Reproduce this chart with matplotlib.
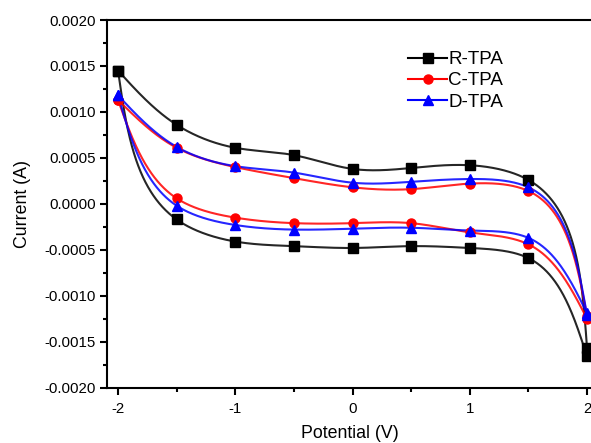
import numpy as np
import matplotlib
matplotlib.use("Agg")
import matplotlib.pyplot as plt
from matplotlib.ticker import MultipleLocator, FixedFormatter, FixedLocator

plt.rcParams['font.family'] = ['Liberation Sans', 'DejaVu Sans']

# Potential points (V)
potential = [-2.0, -1.5, -1.0, -0.5, 0.0, 0.5, 1.0, 1.5, 2.0]

# Current (A): upper (anodic) branch and lower (cathodic) branch at each potential
r_upper = [0.00145, 0.00086, 0.00061, 0.00053, 0.00038, 0.00039, 0.00042, 0.00026, -0.00157]
r_lower = [0.00145, -0.00017, -0.00041, -0.00046, -0.00048, -0.00046, -0.00048, -0.00059, -0.00166]

c_upper = [0.00113, 0.00061, 0.00040, 0.00028, 0.00018, 0.00016, 0.00022, 0.00014, -0.00122]
c_lower = [0.00113, 0.00006, -0.00015, -0.00021, -0.00021, -0.00021, -0.00031, -0.00044, -0.00125]

d_upper = [0.00118, 0.00062, 0.00041, 0.00034, 0.00023, 0.00024, 0.00027, 0.00018, -0.00121]
d_lower = [0.00118, -0.00002, -0.00023, -0.00028, -0.00027, -0.00026, -0.00029, -0.00037, -0.00119]

labels = ['R-TPA', 'C-TPA', 'D-TPA']
colors = ['#000000', '#ff0000', '#0000ff']
markers = ['s', 'o', '^']

y_ticks = [-0.0020, -0.0015, -0.0010, -0.0005, 0.0000, 0.0005, 0.0010, 0.0015, 0.0020]
y_ticklabels = ['-0.0020', '-0.0015', '-0.0010', '-0.0005', '0.0000', '0.0005', '0.0010', '0.0015', '0.0020']
x_ticks = [-2, -1, 0, 1, 2]
x_ticklabels = ['-2', '-1', '0', '1', '2']


def natural_coeffs(t, y):
    k = len(t)
    h = np.diff(t)
    A = np.zeros((k, k))
    b = np.zeros(k)
    A[0, 0] = 1
    A[-1, -1] = 1
    for i in range(1, k - 1):
        A[i, i - 1] = h[i - 1]
        A[i, i] = 2 * (h[i - 1] + h[i])
        A[i, i + 1] = h[i]
        b[i] = 6 * ((y[i + 1] - y[i]) / h[i] - (y[i] - y[i - 1]) / h[i - 1])
    return np.linalg.solve(A, b)


def eval_spline(t, y, M, ts):
    k = len(t)
    idx = np.clip(np.searchsorted(t, ts) - 1, 0, k - 2)
    t0, t1 = t[idx], t[idx + 1]
    hh = t1 - t0
    a = t1 - ts
    c = ts - t0
    return (M[idx] * a ** 3 / (6 * hh) + M[idx + 1] * c ** 3 / (6 * hh)
            + (y[idx] / hh - M[idx] * hh / 6) * a
            + (y[idx + 1] / hh - M[idx + 1] * hh / 6) * c)


def parametric_spline(x, y, sx, sy, n=1000):
    # natural cubic spline through the points, parameterised by chord length
    # measured in display units (sx, sy = pixels per data unit)
    x = np.asarray(x, float)
    y = np.asarray(y, float)
    d = np.hypot(np.diff(x) * sx, np.diff(y) * sy)
    t = np.concatenate([[0], np.cumsum(d)])
    ts = np.linspace(0, t[-1], n)
    Mx = natural_coeffs(t, x)
    My = natural_coeffs(t, y)
    return eval_spline(t, x, Mx, ts), eval_spline(t, y, My, ts)


fig = plt.figure(figsize=(5.91, 4.43), dpi=100)
ax = fig.add_axes([107 / 591, 55.3 / 443, (593 - 107) / 591, (423 - 55.3) / 443])
sx = 117.25
sy = 91900.0

series = [(r_upper, r_lower), (c_upper, c_lower), (d_upper, d_lower)]
for (up, lo), lab, col, mk in zip(series, labels, colors, markers):
    for br in (up, lo):
        xs, ys = parametric_spline(potential, br, sx, sy)
        ax.plot(xs, ys, color=col, lw=1.5, alpha=0.85, zorder=2)
        ax.plot(potential, br, ls='none', marker=mk, color=col, ms=6.5, zorder=3)
    ax.plot([], [], color=col, lw=1.5, marker=mk, ms=6.5, label=lab)

ax.set_xlim(-2.094, 2.051)
ax.set_ylim(-0.002, 0.002)
ax.yaxis.set_major_locator(FixedLocator(y_ticks))
ax.yaxis.set_major_formatter(FixedFormatter(y_ticklabels))
ax.yaxis.set_minor_locator(MultipleLocator(0.00025))
ax.xaxis.set_major_locator(FixedLocator(x_ticks))
ax.xaxis.set_major_formatter(FixedFormatter(x_ticklabels))
ax.xaxis.set_minor_locator(MultipleLocator(0.5))

for s in ['left', 'bottom', 'top']:
    ax.spines[s].set_linewidth(1.5)
ax.spines['right'].set_visible(False)
ax.tick_params(axis='both', which='major', direction='out', length=5, width=1.5, labelsize=10.8, pad=3)
ax.tick_params(axis='both', which='minor', direction='out', length=3, width=1.5)
ax.tick_params(axis='x', which='major', pad=5)

ax.set_xlabel('Potential (V)', fontsize=12.8, labelpad=7)
ax.set_ylabel('Current (A)', fontsize=12.8, labelpad=10)

ax.legend(loc='upper left', bbox_to_anchor=((408 - 107) / 486, 1 - (51 - 20) / 367.7),
          frameon=False, fontsize=13.5, handlelength=2.1, handletextpad=0.05,
          labelspacing=0.22, numpoints=1, borderaxespad=0, borderpad=0)

fig.savefig('out.png', dpi=100)
